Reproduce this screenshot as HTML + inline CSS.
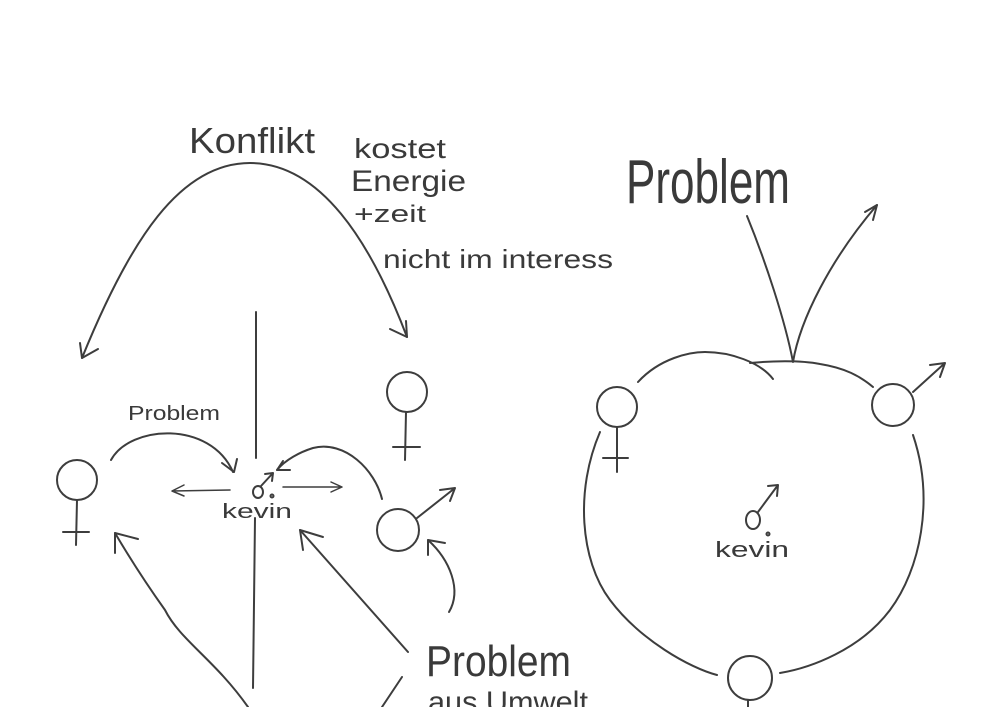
<!DOCTYPE html>
<html><head><meta charset="utf-8"><style>
html,body{margin:0;padding:0;background:#fff;}
svg{display:block;}
text{font-family:"Liberation Sans",sans-serif;fill:#3a3a3a;font-weight:normal;}
</style></head><body>
<svg width="1000" height="707" viewBox="0 0 1000 707" xmlns="http://www.w3.org/2000/svg">
<g fill="none" stroke="#3d3d3d" stroke-width="2" stroke-linecap="round" stroke-linejoin="round">
<!-- Konflikt arc -->
<path d="M82,358 C130,240 180,163 250,163 C320,163 370,240 407,337"/>
<path d="M80,343 L82,358 L98,349"/>
<path d="M390,329 L407,337 L406,321"/>
<!-- vertical lines -->
<path d="M256,312 L256,458"/>
<path d="M255,518 L253,688"/>
<!-- left female -->
<circle cx="77" cy="480" r="20"/>
<path d="M77,500 L76,545 M63,532 L89,532"/>
<!-- Problem arc -->
<path d="M111,460 C130,425 210,420 233,472"/>
<path d="M222,463 L234,472 L237,459"/>
<!-- kevin symbol -->
<ellipse cx="258" cy="492" rx="5" ry="6"/>
<path d="M261,486 L273,473 M265,474 L273,473 L272,481"/>
<circle cx="272" cy="496" r="1.5"/>
<!-- horizontal arrows -->
<path d="M230,490 L172,491 M184,485 L172,491 L184,496" stroke-width="1.5"/>
<path d="M283,487 L342,487 M331,482 L342,487 L331,492" stroke-width="1.5"/>
<!-- curved arrow from right male -->
<path d="M382,499 C375,470 345,440 313,448 C300,452 285,460 277,470"/>
<path d="M283,461 L277,470 L290,470"/>
<!-- top right female -->
<circle cx="407" cy="392" r="20"/>
<path d="M406,412 L405,460 M393,447 L420,447"/>
<!-- male -->
<circle cx="398" cy="530" r="21"/>
<path d="M417,518 L455,488 M440,490 L455,488 L450,501"/>
<!-- small curved arrow -->
<path d="M449,612 C462,590 450,560 428,540"/>
<path d="M445,543 L428,540 L428,555"/>
<!-- arrow from Problem -->
<path d="M408,652 L300,530"/>
<path d="M323,537 L300,530 L303,550"/>
<!-- left big curve -->
<path d="M248,707 C215,660 180,640 165,610 C140,575 125,550 115,533"/>
<path d="M115,553 L115,533 L138,539"/>
<path d="M402,677 L382,707"/>
<!-- right diagram -->
<path d="M747,216 C765,260 785,320 793,362 C800,320 830,260 877,205"/>
<path d="M865,212 L877,205 L873,220"/>
<path d="M638,382 C660,358 690,352 705,352 C730,352 760,362 773,379"/>
<path d="M750,363 C770,361 800,360 820,364 C845,368 860,376 873,387"/>
<circle cx="617" cy="407" r="20"/>
<path d="M617,427 L617,472 M603,458 L628,458"/>
<circle cx="893" cy="405" r="21"/>
<path d="M913,392 L945,363 M930,365 L945,363 L940,377"/>
<path d="M600,432 C575,490 580,560 610,600 C640,640 690,668 717,675"/>
<path d="M913,435 C935,500 920,570 890,610 C860,650 810,668 780,673"/>
<circle cx="750" cy="678" r="22"/>
<path d="M748,700 L748,707"/>
<ellipse cx="753" cy="520" rx="7" ry="9"/>
<path d="M758,512 L778,485 M768,486 L778,485 L777,496"/>
<circle cx="768" cy="534" r="1.5"/>
</g>
<text x="189" y="153" font-size="36" textLength="126" lengthAdjust="spacingAndGlyphs">Konflikt</text>
<text x="354" y="158" font-size="28" textLength="92" lengthAdjust="spacingAndGlyphs">kostet</text>
<text x="351" y="191" font-size="30" textLength="115" lengthAdjust="spacingAndGlyphs">Energie</text>
<text x="354" y="222" font-size="24" textLength="72" lengthAdjust="spacingAndGlyphs">+zeit</text>
<text x="383" y="268" font-size="26" textLength="230" lengthAdjust="spacingAndGlyphs">nicht im interess</text>
<text x="128" y="420" font-size="20" textLength="92" lengthAdjust="spacingAndGlyphs">Problem</text>
<text x="222" y="518" font-size="20" textLength="70" lengthAdjust="spacingAndGlyphs">kevin</text>
<text x="426" y="676" font-size="44" textLength="145" lengthAdjust="spacingAndGlyphs">Problem</text>
<text x="428" y="712" font-size="30" textLength="160" lengthAdjust="spacingAndGlyphs">aus Umwelt</text>
<text x="626" y="203" font-size="62" textLength="164" lengthAdjust="spacingAndGlyphs">Problem</text>
<text x="715" y="557" font-size="22" textLength="74" lengthAdjust="spacingAndGlyphs">kevin</text>
</svg>
</body></html>
